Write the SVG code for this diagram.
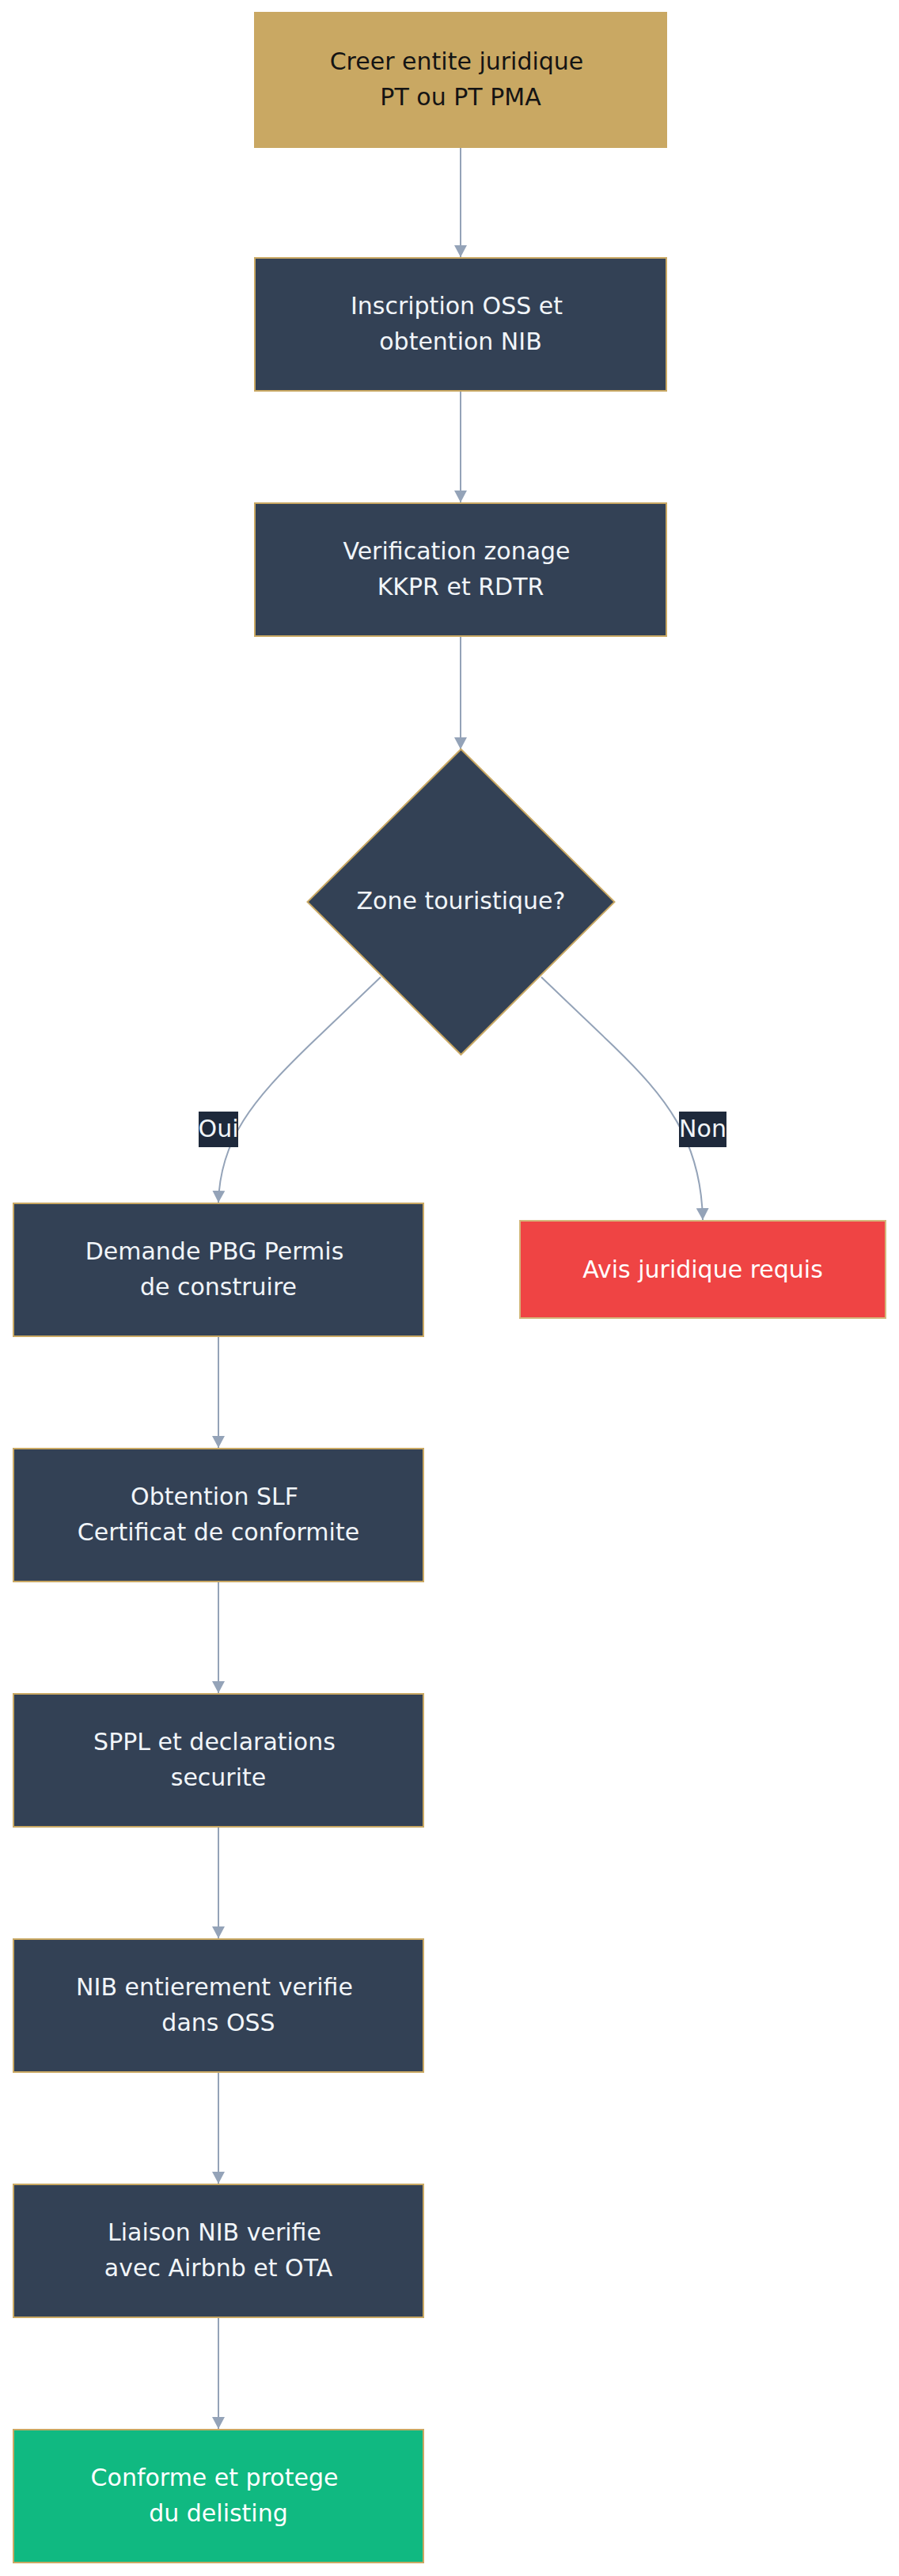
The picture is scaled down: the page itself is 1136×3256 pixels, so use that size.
<svg xmlns="http://www.w3.org/2000/svg" width="1136" height="3256" viewBox="0 0 1136 3256">
<style>
.box{fill:#334155;stroke:#c9a863;stroke-width:2}
.gold{fill:#c9a863;stroke:#c9a863;stroke-width:2}
.red{fill:#ef4444;stroke:#d4b77c;stroke-width:2}
.green{fill:#10b981;stroke:#c9a863;stroke-width:2}
text{font-family:"DejaVu Sans","Noto Sans",sans-serif;font-size:30px;text-anchor:middle}
.lt{fill:#f1f5f9}
.dk{fill:#141414}
.edge{fill:none;stroke:#94a3b8;stroke-width:2;marker-end:url(#arr)}
.lbl{fill:#1e293b}
</style>
<defs>
<marker id="arr" markerUnits="userSpaceOnUse" markerWidth="16" markerHeight="16" refX="15" refY="8" orient="auto">
<path d="M0,0 L15,8 L0,16 Z" fill="#94a3b8"/>
</marker>
</defs>
<rect width="1136" height="3256" fill="#ffffff"/>
<g id="connectors">
<path class="edge" d="M582 187 L582 325"/>
<path class="edge" d="M582 495 L582 635"/>
<path class="edge" d="M582 805 L582 947"/>
<path class="edge" d="M481 1235 L390 1322 C320 1390 278 1440 276 1520"/>
<path class="edge" d="M684 1235 L775 1322 C840 1385 886 1440 888 1542"/>
<path class="edge" d="M276 1690 L276 1830"/>
<path class="edge" d="M276 2000 L276 2140"/>
<path class="edge" d="M276 2310 L276 2450"/>
<path class="edge" d="M276 2620 L276 2760"/>
<path class="edge" d="M276 2930 L276 3070"/>
<g id="label-oui"><rect class="lbl" x="251" y="1405" width="50" height="45"/><text class="lt" x="276" y="1437">Oui</text></g>
<g id="label-non"><rect class="lbl" x="858" y="1405" width="60" height="45"/><text class="lt" x="888" y="1437">Non</text></g>
</g>
<g id="n1"><rect class="gold" x="322" y="16" width="520" height="170"/><text class="dk" x="577" y="88">Creer entite juridique</text><text class="dk" x="582" y="133">PT ou PT PMA</text></g>
<g id="n2"><rect class="box" x="322" y="326" width="520" height="168"/><text class="lt" x="577" y="397">Inscription OSS et</text><text class="lt" x="582" y="442">obtention NIB</text></g>
<g id="n3"><rect class="box" x="322" y="636" width="520" height="168"/><text class="lt" x="577" y="707">Verification zonage</text><text class="lt" x="582" y="752">KKPR et RDTR</text></g>
<g id="n4"><polygon class="box" points="582.5,947 776.5,1140 582.5,1333 388.5,1140"/><text class="lt" x="582.5" y="1149">Zone touristique?</text></g>
<g id="n5"><rect class="box" x="17" y="1521" width="518" height="168"/><text class="lt" x="271" y="1592">Demande PBG Permis</text><text class="lt" x="276" y="1637">de construire</text></g>
<g id="n6"><rect class="red" x="657" y="1543" width="462" height="123"/><text fill="#ffffff" x="888" y="1615">Avis juridique requis</text></g>
<g id="n7"><rect class="box" x="17" y="1831" width="518" height="168"/><text class="lt" x="271" y="1902">Obtention SLF</text><text class="lt" x="276" y="1947">Certificat de conformite</text></g>
<g id="n8"><rect class="box" x="17" y="2141" width="518" height="168"/><text class="lt" x="271" y="2212">SPPL et declarations</text><text class="lt" x="276" y="2257">securite</text></g>
<g id="n9"><rect class="box" x="17" y="2451" width="518" height="168"/><text class="lt" x="271" y="2522">NIB entierement verifie</text><text class="lt" x="276" y="2567">dans OSS</text></g>
<g id="n10"><rect class="box" x="17" y="2761" width="518" height="168"/><text class="lt" x="271" y="2832">Liaison NIB verifie</text><text class="lt" x="276" y="2877">avec Airbnb et OTA</text></g>
<g id="n11"><rect class="green" x="17" y="3071" width="518" height="168"/><text fill="#ffffff" x="271" y="3142">Conforme et protege</text><text fill="#ffffff" x="276" y="3187">du delisting</text></g>
</svg>
